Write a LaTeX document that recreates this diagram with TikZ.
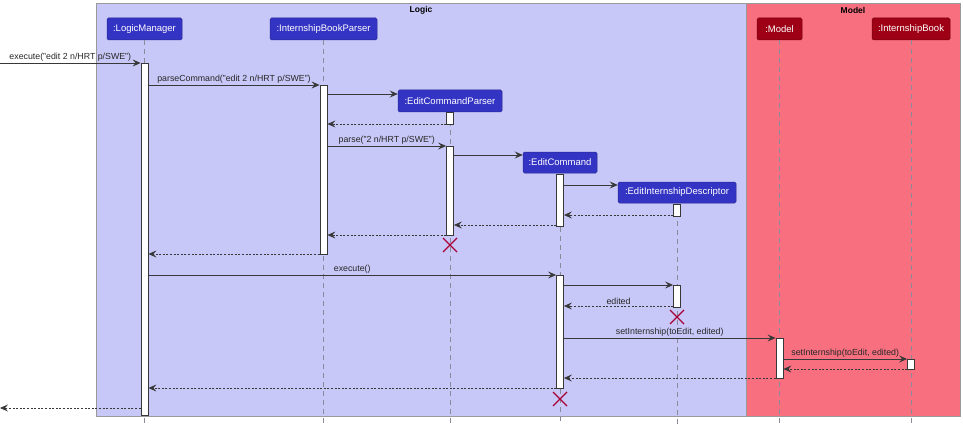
\documentclass[tikz,border=0pt]{standalone}
\usepackage{fontspec}
\setmainfont{Liberation Sans}
\usetikzlibrary{arrows.meta,calc}
\definecolor{logicbg}{HTML}{C8C8F8}
\definecolor{modelbg}{HTML}{F8707F}
\definecolor{logicpart}{HTML}{3434C4}
\definecolor{modelpart}{HTML}{9E0016}
\definecolor{framec}{HTML}{9A9A9A}
\definecolor{linec}{HTML}{383838}
\definecolor{lifec}{HTML}{8A8A9A}
\definecolor{killc}{HTML}{A80036}
\begin{document}
\begin{tikzpicture}[x=1pt,y=-1pt,
 frame/.style={draw=framec, line width=1pt},
 ftitle/.style={font=\fontsize{8.5}{10}\selectfont\bfseries, inner sep=0pt},
 part/.style={rounded corners=1.5pt, minimum height=22pt, inner xsep=2pt, font=\fontsize{9.5}{11}\selectfont, text=white, draw=#1!75!black, fill=#1, line width=0.5pt},
 lifeline/.style={draw=lifec, dash pattern=on 5pt off 4pt, line width=0.7pt},
 act/.style={draw=linec, fill=white, minimum width=7pt, line width=0.8pt, inner sep=0pt, anchor=north},
 msg/.style={draw=linec, line width=0.8pt, -{Stealth[length=8pt,width=7pt,inset=3pt]}},
 ret/.style={msg, dash pattern=on 2pt off 1.6pt},
 lbl/.style={font=\fontsize{8.8}{10}\selectfont, inner sep=1.5pt, above, text=black!85},
 kill/.style={draw=killc, line width=1.1pt}
]
\useasboundingbox (0,0) rectangle (963,425);
% frames
\draw[frame, fill=logicbg] (96,4) rectangle (746,416);
\draw[frame, fill=modelbg] (746,4) rectangle (960,416);
\node[ftitle] (tLogic) at (421,10) {Logic};
\node[ftitle] (tModel) at (853,10) {Model};
% participants
\node[part=logicpart, minimum width=75pt] (LM) at (144.5,29) {:LogicManager};
\node[part=logicpart, minimum width=107pt] (IBP) at (323.5,29) {:InternshipBookParser};
\node[part=logicpart, minimum width=104pt] (ECP) at (450,101) {:EditCommandParser};
\node[part=logicpart, minimum width=74pt, minimum height=21pt] (EC) at (560,162.5) {:EditCommand};
\node[part=logicpart, minimum width=118pt, minimum height=21pt] (EID) at (677,192.5) {:EditInternshipDescriptor};
\node[part=modelpart, minimum width=45pt] (MD) at (779.5,29) {:Model};
\node[part=modelpart, minimum width=78pt] (IB) at (911,29) {:InternshipBook};
% lifelines
\coordinate (bot) at (0,425);
\foreach \p in {LM,IBP,ECP,EC,EID,MD,IB}{
  \draw[lifeline] (\p.south) -- (\p.south |- bot);
}
% activation bars
\node[act, minimum height=352pt] (aLM) at (144.5,63) {};
\node[act, minimum height=169pt] (aIBP) at (323.5,85) {};
\node[act, minimum height=12pt] (aECP1) at (450,112) {};
\node[act, minimum height=89pt] (aECP2) at (450,146) {};
\node[act, minimum height=52pt] (aEC1) at (560,173.5) {};
\node[act, minimum height=12pt] (aEID1) at (677,203.5) {};
\node[act, minimum height=113pt] (aEC2) at (560,275) {};
\node[act, minimum height=22pt] (aEID2) at (677,285) {};
\node[act, minimum height=40pt] (aMD) at (779.5,338) {};
\node[act, minimum height=10pt] (aIB) at (911,359) {};
% message heights
\coordinate (in) at (0,63);
\coordinate (out) at (0,408);
\coordinate (m2) at (0,85);
\coordinate (m3) at (0,94);
\coordinate (m4) at (0,124);
\coordinate (m5) at (0,146);
\coordinate (m6) at (0,155);
\coordinate (m7) at (0,185);
\coordinate (m8) at (0,215);
\coordinate (m9) at (0,225);
\coordinate (m10) at (0,235);
\coordinate (m11) at (0,254);
\coordinate (m12) at (0,275);
\coordinate (m13) at (0,285);
\coordinate (m14) at (0,306);
\coordinate (m15) at (0,338);
\coordinate (m16) at (0,359);
\coordinate (m17) at (0,369);
\coordinate (m18) at (0,378);
\coordinate (m19) at (0,388);
% messages
\draw[msg] (in) -- (aLM.west |- in) node[lbl, midway] {execute("edit 2 n/HRT p/SWE")};
\draw[msg] (aLM.east |- m2) -- (aIBP.west |- m2) node[lbl, midway] {parseCommand("edit 2 n/HRT p/SWE")};
\draw[msg] (aIBP.east |- m3) -- (ECP.west |- m3);
\draw[ret] (aECP1.west |- m4) -- (aIBP.east |- m4);
\draw[msg] (aIBP.east |- m5) -- (aECP2.west |- m5) node[lbl, midway] {parse("2 n/HRT p/SWE")};
\draw[msg] (aECP2.east |- m6) -- (EC.west |- m6);
\draw[msg] (aEC1.east |- m7) -- (EID.west |- m7);
\draw[ret] (aEID1.west |- m8) -- (aEC1.east |- m8);
\draw[ret] (aEC1.west |- m9) -- (aECP2.east |- m9);
\draw[ret] (aECP2.west |- m10) -- (aIBP.east |- m10);
\draw[ret] (aIBP.west |- m11) -- (aLM.east |- m11);
\draw[msg] (aLM.east |- m12) -- (aEC2.west |- m12) node[lbl, midway] {execute()};
\draw[msg] (aEC2.east |- m13) -- (aEID2.west |- m13);
\draw[ret] (aEID2.west |- m14) -- (aEC2.east |- m14) node[lbl, midway] {edited};
\draw[msg] (aEC2.east |- m15) -- (aMD.west |- m15) node[lbl, midway] {setInternship(toEdit, edited)};
\draw[msg] (aMD.east |- m16) -- (aIB.west |- m16) node[lbl, midway] {setInternship(toEdit, edited)};
\draw[ret] (aIB.west |- m17) -- (aMD.east |- m17);
\draw[ret] (aMD.west |- m18) -- (aEC2.east |- m18);
\draw[ret] (aEC2.west |- m19) -- (aLM.east |- m19);
\draw[ret] (aLM.west |- out) -- (out);
% destruction marks
\coordinate (xECP) at (450,245);
\coordinate (xEID) at (677,317);
\coordinate (xEC) at (560,399);
\foreach \k in {xECP,xEID,xEC}{
  \draw[kill] ($(\k)+(-7,-7)$) -- ($(\k)+(7,7)$) ($(\k)+(-7,7)$) -- ($(\k)+(7,-7)$);
}
\end{tikzpicture}
\end{document}
